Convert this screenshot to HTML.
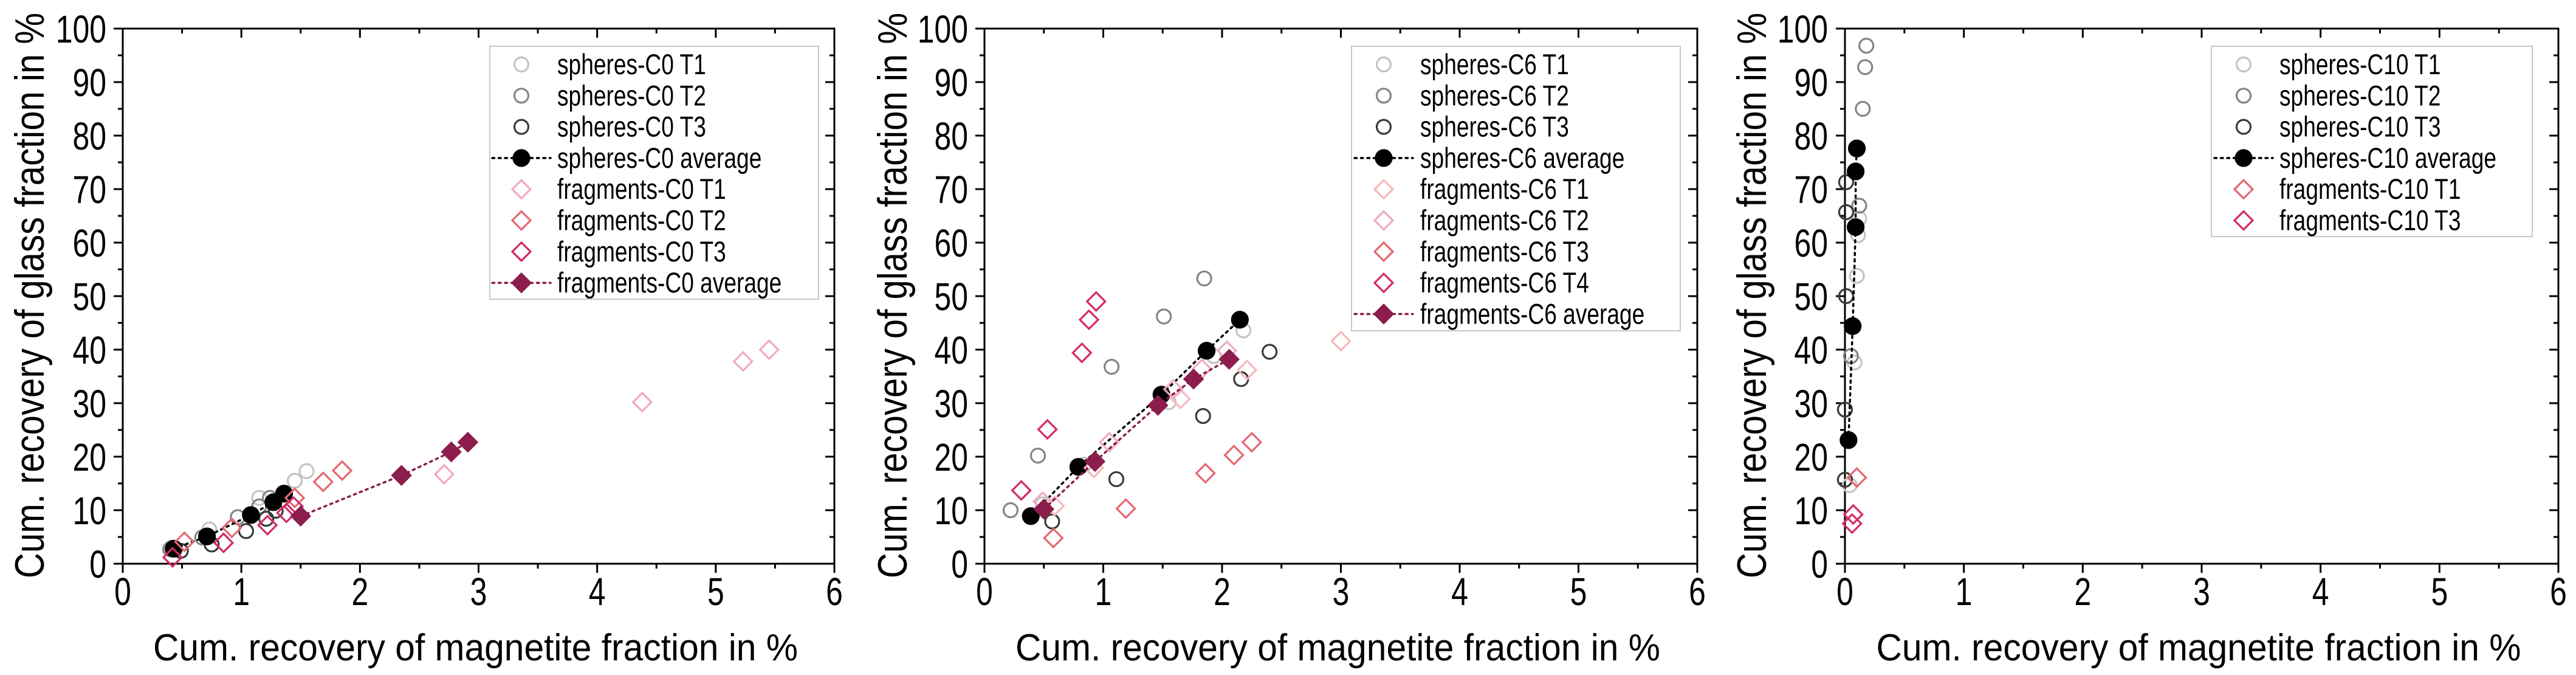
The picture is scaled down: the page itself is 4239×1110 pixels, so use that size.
<!DOCTYPE html>
<html><head><meta charset="utf-8"><style>
html,body{margin:0;padding:0;background:#fff;}
svg{display:block;font-family:"Liberation Sans",Arial,sans-serif;}
</style></head><body>
<svg id="chart" width="4239" height="1110" viewBox="0 0 4239 1110" xmlns="http://www.w3.org/2000/svg"></svg>
<script>
// ---- data (x: cum. recovery magnetite %, y: cum. recovery glass %) ----
const xTicks = [0,1,2,3,4,5,6];
const yTicks = [0,10,20,30,40,50,60,70,80,90,100];

// Panel C0
const c0SpheresT1X = [0.41,0.73,1.15,1.45,1.55];
const c0SpheresT1Y = [3.0,6.4,12.3,15.5,17.3];
const c0SpheresT2X = [0.40,0.67,0.97,1.15,1.24];
const c0SpheresT2Y = [2.7,4.9,8.7,10.7,12.3];
const c0SpheresT3X = [0.49,0.75,1.04,1.21,1.29];
const c0SpheresT3Y = [2.4,3.6,6.1,8.4,9.9];
const c0SpheresAvgX = [0.43,0.71,1.08,1.27,1.36];
const c0SpheresAvgY = [2.8,5.1,9.1,11.5,13.1];
const c0FragT1X = [2.71,4.38,5.23,5.45];
const c0FragT1Y = [16.7,30.2,37.8,40.0];
const c0FragT2X = [0.52,0.92,1.45,1.69,1.85];
const c0FragT2Y = [4.1,6.7,12.3,15.3,17.4];
const c0FragT3X = [0.42,0.85,1.22,1.38,1.44];
const c0FragT3Y = [1.2,3.9,7.2,9.5,10.7];
const c0FragAvgX = [1.50,2.35,2.77,2.91];
const c0FragAvgY = [8.9,16.5,20.9,22.7];

// Panel C6
const c6SpheresT1X = [0.49,0.84,1.55,1.93,2.18];
const c6SpheresT1Y = [11.1,18.5,30.2,38.8,43.6];
const c6SpheresT2X = [0.22,0.45,1.07,1.51,1.85];
const c6SpheresT2Y = [10.0,20.2,36.8,46.2,53.3];
const c6SpheresT3X = [0.57,1.11,1.84,2.16,2.40];
const c6SpheresT3Y = [7.9,15.8,27.6,34.5,39.6];
const c6SpheresAvgX = [0.39,0.79,1.49,1.87,2.15];
const c6SpheresAvgY = [8.9,18.1,31.6,39.8,45.6];
const c6FragT1X = [0.59,0.92,1.65,2.21,3.00];
const c6FragT1Y = [10.8,17.9,30.8,36.2,41.6];
const c6FragT2X = [0.49,1.05,1.59,1.83,2.04];
const c6FragT2Y = [11.6,22.7,32.6,36.4,39.8];
const c6FragT3X = [0.58,1.19,1.86,2.10,2.25];
const c6FragT3Y = [4.8,10.3,16.9,20.3,22.7];
const c6FragT4X = [0.31,0.53,0.82,0.88,0.94];
const c6FragT4Y = [13.7,25.1,39.4,45.6,49.0];
const c6FragAvgX = [0.50,0.93,1.46,1.76,2.06];
const c6FragAvgY = [10.2,19.1,29.6,34.5,38.2];

// Panel C10
const c10SpheresT1X = [0.04,0.08,0.10,0.11,0.12];
const c10SpheresT1Y = [14.7,37.6,53.8,61.4,64.5];
const c10SpheresT2X = [0.05,0.12,0.15,0.17,0.18];
const c10SpheresT2Y = [38.8,66.9,85.0,92.8,96.8];
const c10SpheresT3X = [0.00,0.00,0.01,0.01,0.01];
const c10SpheresT3Y = [15.7,28.8,50.0,65.7,71.3];
const c10SpheresAvgX = [0.03,0.065,0.09,0.09,0.10];
const c10SpheresAvgY = [23.1,44.4,62.9,73.3,77.6];
const c10FragT1X = [0.10];
const c10FragT1Y = [16.1];
const c10FragT3X = [0.07,0.06];
const c10FragT3Y = [9.2,7.5];

const COL = {s1:'#c4c4c4', s2:'#858585', s3:'#3a3a3a', avg:'#000',
  fLight:'#f2a9bd', fPink:'#eeaac6', fSalmon:'#e46872', fCrimson:'#d42a68', fAvg:'#8c1d4d', fPeach:'#f5b8bb'};

const panels = [
 {id:'c0', x0:202, x1:1373, ylabX:175, titleX:72, legend:{x:806, w:541, h:416}, markX:858, textX:917,
  series:[
   {name:'spheres-C0 T1', x:c0SpheresT1X, y:c0SpheresT1Y, m:'circle', c:COL.s1},
   {name:'spheres-C0 T2', x:c0SpheresT2X, y:c0SpheresT2Y, m:'circle', c:COL.s2},
   {name:'spheres-C0 T3', x:c0SpheresT3X, y:c0SpheresT3Y, m:'circle', c:COL.s3},
   {name:'spheres-C0 average', x:c0SpheresAvgX, y:c0SpheresAvgY, m:'circle', c:COL.avg, fill:true, line:true},
   {name:'fragments-C0 T1', x:c0FragT1X, y:c0FragT1Y, m:'diamond', c:COL.fLight},
   {name:'fragments-C0 T2', x:c0FragT2X, y:c0FragT2Y, m:'diamond', c:COL.fSalmon},
   {name:'fragments-C0 T3', x:c0FragT3X, y:c0FragT3Y, m:'diamond', c:COL.fCrimson},
   {name:'fragments-C0 average', x:c0FragAvgX, y:c0FragAvgY, m:'diamond', c:COL.fAvg, fill:true, line:true}
  ]},
 {id:'c6', x0:1620, x1:2793, ylabX:1593, titleX:1492, legend:{x:2224, w:541, h:468}, markX:2277, textX:2337,
  series:[
   {name:'spheres-C6 T1', x:c6SpheresT1X, y:c6SpheresT1Y, m:'circle', c:COL.s1},
   {name:'spheres-C6 T2', x:c6SpheresT2X, y:c6SpheresT2Y, m:'circle', c:COL.s2},
   {name:'spheres-C6 T3', x:c6SpheresT3X, y:c6SpheresT3Y, m:'circle', c:COL.s3},
   {name:'spheres-C6 average', x:c6SpheresAvgX, y:c6SpheresAvgY, m:'circle', c:COL.avg, fill:true, line:true},
   {name:'fragments-C6 T1', x:c6FragT1X, y:c6FragT1Y, m:'diamond', c:COL.fPeach},
   {name:'fragments-C6 T2', x:c6FragT2X, y:c6FragT2Y, m:'diamond', c:COL.fPink},
   {name:'fragments-C6 T3', x:c6FragT3X, y:c6FragT3Y, m:'diamond', c:COL.fSalmon},
   {name:'fragments-C6 T4', x:c6FragT4X, y:c6FragT4Y, m:'diamond', c:COL.fCrimson},
   {name:'fragments-C6 average', x:c6FragAvgX, y:c6FragAvgY, m:'diamond', c:COL.fAvg, fill:true, line:true}
  ]},
 {id:'c10', x0:3036, x1:4210, ylabX:3008, titleX:2906, legend:{x:3639, w:528, h:313}, markX:3692, textX:3751,
  series:[
   {name:'spheres-C10 T1', x:c10SpheresT1X, y:c10SpheresT1Y, m:'circle', c:COL.s1},
   {name:'spheres-C10 T2', x:c10SpheresT2X, y:c10SpheresT2Y, m:'circle', c:COL.s2},
   {name:'spheres-C10 T3', x:c10SpheresT3X, y:c10SpheresT3Y, m:'circle', c:COL.s3},
   {name:'spheres-C10 average', x:c10SpheresAvgX, y:c10SpheresAvgY, m:'circle', c:COL.avg, fill:true, line:true},
   {name:'fragments-C10 T1', x:c10FragT1X, y:c10FragT1Y, m:'diamond', c:COL.fSalmon},
   {name:'fragments-C10 T3', x:c10FragT3X, y:c10FragT3Y, m:'diamond', c:COL.fCrimson}
  ]}
];

const NS = 'http://www.w3.org/2000/svg';
const svg = document.getElementById('chart');
const Y0 = 927, Y1 = 47;
function mk(tag, attrs, parent){ const e=document.createElementNS(NS,tag); for(const k in attrs) e.setAttribute(k,attrs[k]); (parent||svg).appendChild(e); return e; }
function txt(s, x, y, size, anchor, sx, parent){
  const t = mk('text', {x:0, y:0, 'font-size':size, 'text-anchor':anchor, fill:'#000',
    transform:`translate(${x},${y}) scale(${sx},1)`}, parent);
  t.textContent = s; return t;
}
function marker(g, m, cx, cy, color, fill){
  if(m==='circle'){
    return mk('circle',{cx:cx, cy:cy, r: fill?13:11.5, fill: fill?color:'none', stroke:color, 'stroke-width':3.2}, g);
  } else {
    const h = 15;
    return mk('path',{d:`M${cx},${cy-h} L${cx+h},${cy} L${cx},${cy+h} L${cx-h},${cy} Z`, fill: fill?color:'none', stroke:color, 'stroke-width':3.2}, g);
  }
}

panels.forEach(p=>{
  const xs = v => p.x0 + v/6*(p.x1-p.x0);
  const ys = v => Y0 - v/100*(Y0-Y1);
  const g = mk('g',{});
  
  

  const frame = mk('rect',{x:p.x0, y:Y1, width:p.x1-p.x0, height:Y0-Y1, fill:'none', stroke:'#000', 'stroke-width':3}, g);
  
  

  const tg = mk('g',{stroke:'#000','stroke-width':3}, g);
  
  
  for(let v=0; v<=6.001; v+=0.5){
    const major = Math.abs(v-Math.round(v))<1e-6, X=xs(v), L = major?15:8;
    mk('line',{x1:X, y1:Y0, x2:X, y2:Y0+L}, tg);
    mk('line',{x1:X, y1:Y1, x2:X, y2:Y1+L}, tg);
  }
  for(let v=0; v<=100.001; v+=5){
    const major = v%10===0, Y=ys(v), L = major?15:8;
    mk('line',{x1:p.x0-L, y1:Y, x2:p.x0, y2:Y}, tg);
    mk('line',{x1:p.x1-L, y1:Y, x2:p.x1, y2:Y}, tg);
  }
  const xl = mk('g',{}, g);
  
  
  xTicks.forEach(v=>{ txt(String(v), xs(v), 995, 64, 'middle', 0.78, xl); });
  const yl = mk('g',{}, g);
  
  
  yTicks.forEach(v=>{ txt(String(v), p.ylabX, ys(v)+23, 64, 'end', 0.78, yl); });

  const xt = mk('text',{x:(p.x0+p.x1)/2-5, y:1086, 'font-size':62, 'text-anchor':'middle', textLength:1061, lengthAdjust:'spacingAndGlyphs'}, g);
  xt.textContent = 'Cum. recovery of magnetite fraction in %';
  
  
  const yt = mk('text',{x:0, y:0, 'font-size':68, 'text-anchor':'middle', textLength:930, lengthAdjust:'spacingAndGlyphs', transform:`translate(${p.titleX},486) rotate(-90)`}, g);
  yt.textContent = 'Cum. recovery of glass fraction in %';
  
  

  p.series.forEach(s=>{
    const sg = mk('g',{}, g);
    
    
    if(s.line){
      const pts = s.x.map((v,i)=>xs(v)+','+ys(s.y[i])).join(' ');
      const pl = mk('polyline',{points:pts, fill:'none', stroke:s.c, 'stroke-width':3.5, 'stroke-dasharray':'3.5 7', 'stroke-linecap':'round'}, sg);
      
      
    }
    s.x.forEach((v,i)=>{
      const el = marker(sg, s.m, xs(v), ys(s.y[i]), s.c, s.fill);
      
      
    });
  });

  const lg = mk('g',{}, g);
  
  
  mk('rect',{x:p.legend.x, y:76, width:p.legend.w, height:p.legend.h, fill:'#fff', stroke:'#c8c8c8', 'stroke-width':2}, lg);
  p.series.forEach((s,i)=>{
    const cy = 106 + i*51.3;
    const eg = mk('g',{}, lg);
    
    
    if(s.line){
      mk('line',{x1:p.markX-48, y1:cy, x2:p.markX+48, y2:cy, stroke:s.c, 'stroke-width':3.5, 'stroke-dasharray':'3.5 7', 'stroke-linecap':'round'}, eg);
    }
    marker(eg, s.m, p.markX, cy, s.c, s.fill);
    txt(s.name, p.textX, cy+16, 47, 'start', 0.79, eg);
  });
});
</script>
</body></html>
